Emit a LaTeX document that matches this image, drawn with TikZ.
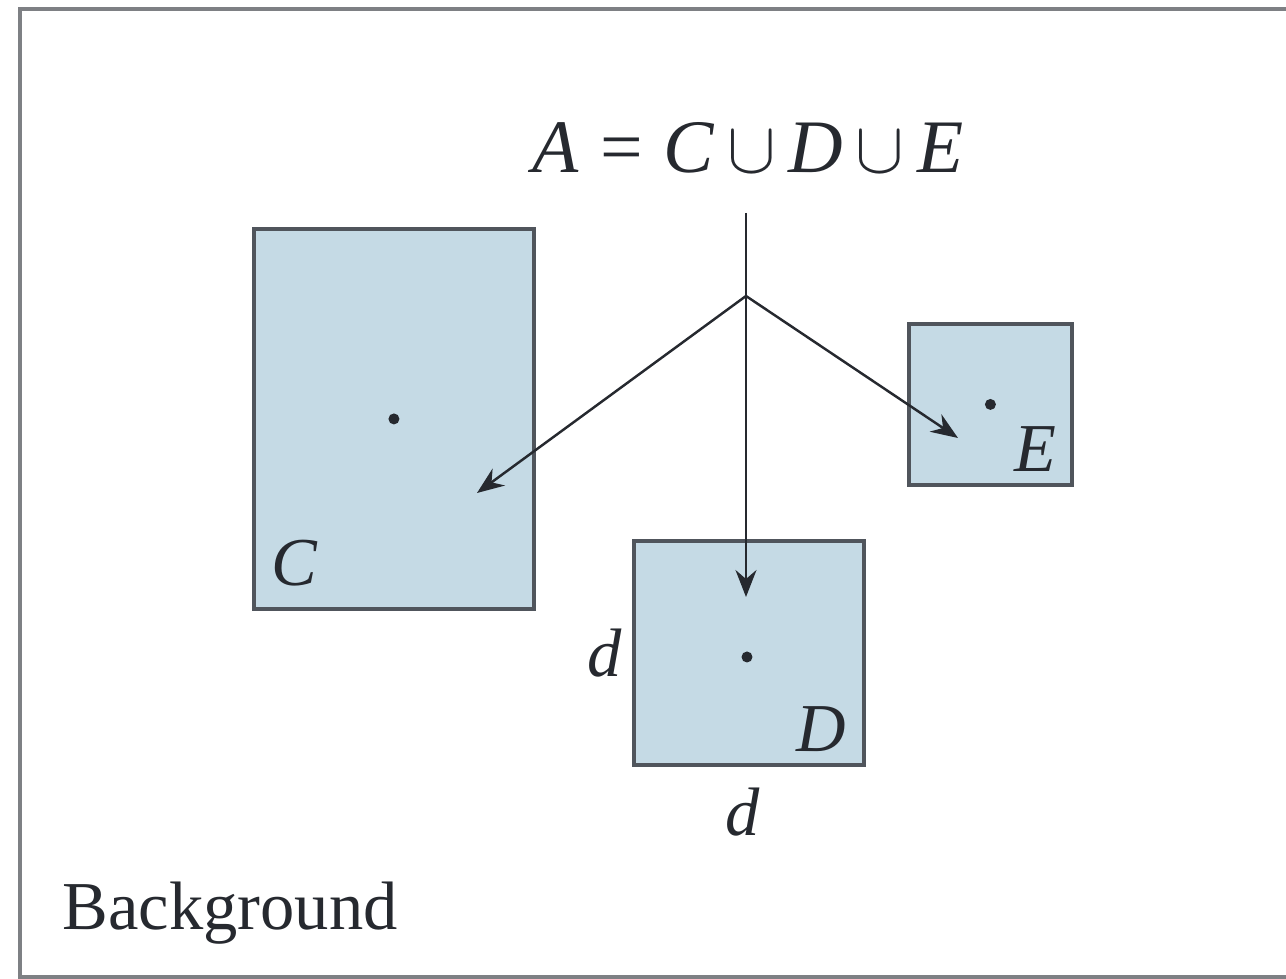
\documentclass[tikz,border=0pt]{standalone}
\usepackage{fontspec}
\setmainfont{Liberation Serif}
\usetikzlibrary{arrows.meta, positioning}
\definecolor{regbg}{HTML}{C5DAE5}
\definecolor{regline}{HTML}{50555C}
\definecolor{framegray}{HTML}{7E8084}
\definecolor{inkdark}{HTML}{26292F}
\tikzset{
  region/.style={rectangle, draw=regline, line width=1.1pt, fill=regbg,
    inner sep=0pt, anchor=north west},
  lbl/.style={inner sep=0pt, text=inkdark, font=\fontsize{19.5}{22}\selectfont\itshape},
  dot/.style={circle, fill=inkdark, inner sep=0pt, minimum size=0.11cm},
  ar/.style={-{Stealth[length=2.7mm, width=2.1mm, inset=0.9mm]}, line width=0.7pt, inkdark},
  framebox/.style={draw=framegray, line width=1pt},
}

\begin{document}
\begin{tikzpicture}
  \useasboundingbox (0,0) rectangle (12.86,-9.79);
  \clip (0,0) rectangle (12.86,-9.79);
  \draw[framebox] (0.20,-0.09) rectangle (13.5,-9.77);

  % the three regions
  \node[region, minimum width=2.80cm, minimum height=3.80cm] (C) at (2.52,-2.27) {};
  \node[region, minimum width=2.30cm, minimum height=2.24cm] (D) at (6.32,-5.39) {};
  \node[region, minimum width=1.63cm, minimum height=1.61cm] (E) at (9.07,-3.22) {};
  \node[dot] (cc) at (C.center) {};
  \node[dot] (dc) at (7.47,-6.57) {};
  \node[dot] (ec) at (E.center) {};

  \node[lbl, above right=0.24cm and 0.19cm of C.south west] (clbl) {C};
  \node[lbl, above left=0.15cm and 0.19cm of D.south east] (dlbl) {D};
  \node[lbl, above left=0.15cm and 0.17cm of E.south east] (elbl) {E};
  \node[lbl, left=0.1cm of D.west] (dside) {d};
  \node[lbl, below=0.2cm of D.south, xshift=-0.06cm] (dbase) {d};

  % union label and arrows
  \node[inner sep=0pt, anchor=base, text=inkdark, font=\fontsize{21.5}{24}\selectfont]
    (eqn) at (7.48,-1.73) {\textit{A}\;=\;\textit{C}\,$\cup$\,\textit{D}\,$\cup$\,\textit{E}};
  \coordinate (stem) at (7.46,-2.13);
  \coordinate (split) at (7.46,-2.96);
  \coordinate (ctip) at (4.77,-4.93);
  \coordinate (dtip) at (7.46,-5.97);
  \coordinate (etip) at (9.58,-4.38);
  \draw[line width=0.7pt, inkdark] (stem) -- (split);
  \draw[ar] (split) -- (ctip);
  \draw[ar] (split) -- (dtip);
  \draw[ar] (split) -- (etip);

  \node[inner sep=0pt, anchor=base west, text=inkdark, font=\fontsize{19.5}{22}\selectfont]
    (bg) at (0.62,-9.30) {Background};
\end{tikzpicture}
\end{document}
